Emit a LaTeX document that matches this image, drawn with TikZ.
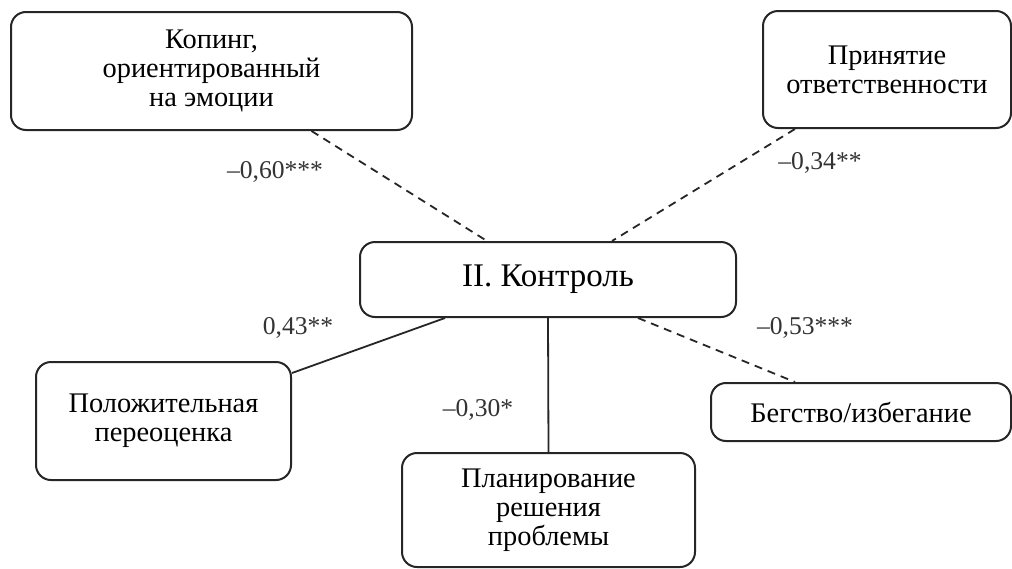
\documentclass[tikz,border=0pt]{standalone}
\usepackage{fontspec}
\setmainfont{Liberation Serif}
\usepackage{tikz}
\tikzstyle{box} = [draw=black!85, line width=1pt, rounded corners=7.5pt, align=center, inner sep=2pt, font={\fontsize{14.2}{14.6}\selectfont}]
\tikzstyle{dashlink} = [draw=black!85, line width=0.9pt, dash pattern=on 4pt off 3pt]
\tikzstyle{solidlink} = [draw=black!85, line width=0.9pt]
\tikzstyle{coef} = [font={\fontsize{12.8}{14}\selectfont}, text=black!80, inner sep=0pt]

\begin{document}
\begin{tikzpicture}[x=0.5pt,y=-0.5pt]
    \useasboundingbox (0,0) rectangle (1012,568);
    \node[box,minimum width=200.5pt,minimum height=59pt](kop) at (211.5,71){Копинг,\\ориентированный\\на эмоции};
    \node[box,minimum width=124pt,minimum height=58.5pt](prin) at (887,69.5){Принятие\\ответственности};
    \node[box,minimum width=188pt,minimum height=37.5pt,font={\fontsize{16.5}{19}\selectfont}](ctrl) at (548,279.5){II. Контроль};
    \node[box,minimum width=127.5pt,minimum height=59pt](pol) at (163.5,421){Положительная\\переоценка};
    \node[box,minimum width=146.5pt,minimum height=57pt](plan) at (548.5,510){Планирование\\решения\\проблемы};
    \node[box,minimum width=150pt,minimum height=29pt](beg) at (861,412){Бегство/избегание};
    \node[coef](c1) at (275,172){–0,60***};
    \node[coef](c2) at (820,163){–0,34**};
    \node[coef](c3) at (298,328){0,43**};
    \node[coef](c4) at (478,410){–0,30*};
    \node[coef](c5) at (805,328){–0,53***};
    \draw[dashlink]([xshift=50pt]kop.south)--([xshift=-30.5pt]ctrl.north);
    \draw[dashlink]([xshift=-46pt]prin.south)--([xshift=32pt]ctrl.north);
    \draw[solidlink]([yshift=24pt]pol.east)--([xshift=-51.5pt]ctrl.south);
    \draw[solidlink](ctrl.south)--(plan.north);
    \draw[dashlink]([xshift=45pt]ctrl.south)--([xshift=-33pt]beg.north);
  \end{tikzpicture}
\end{document}
